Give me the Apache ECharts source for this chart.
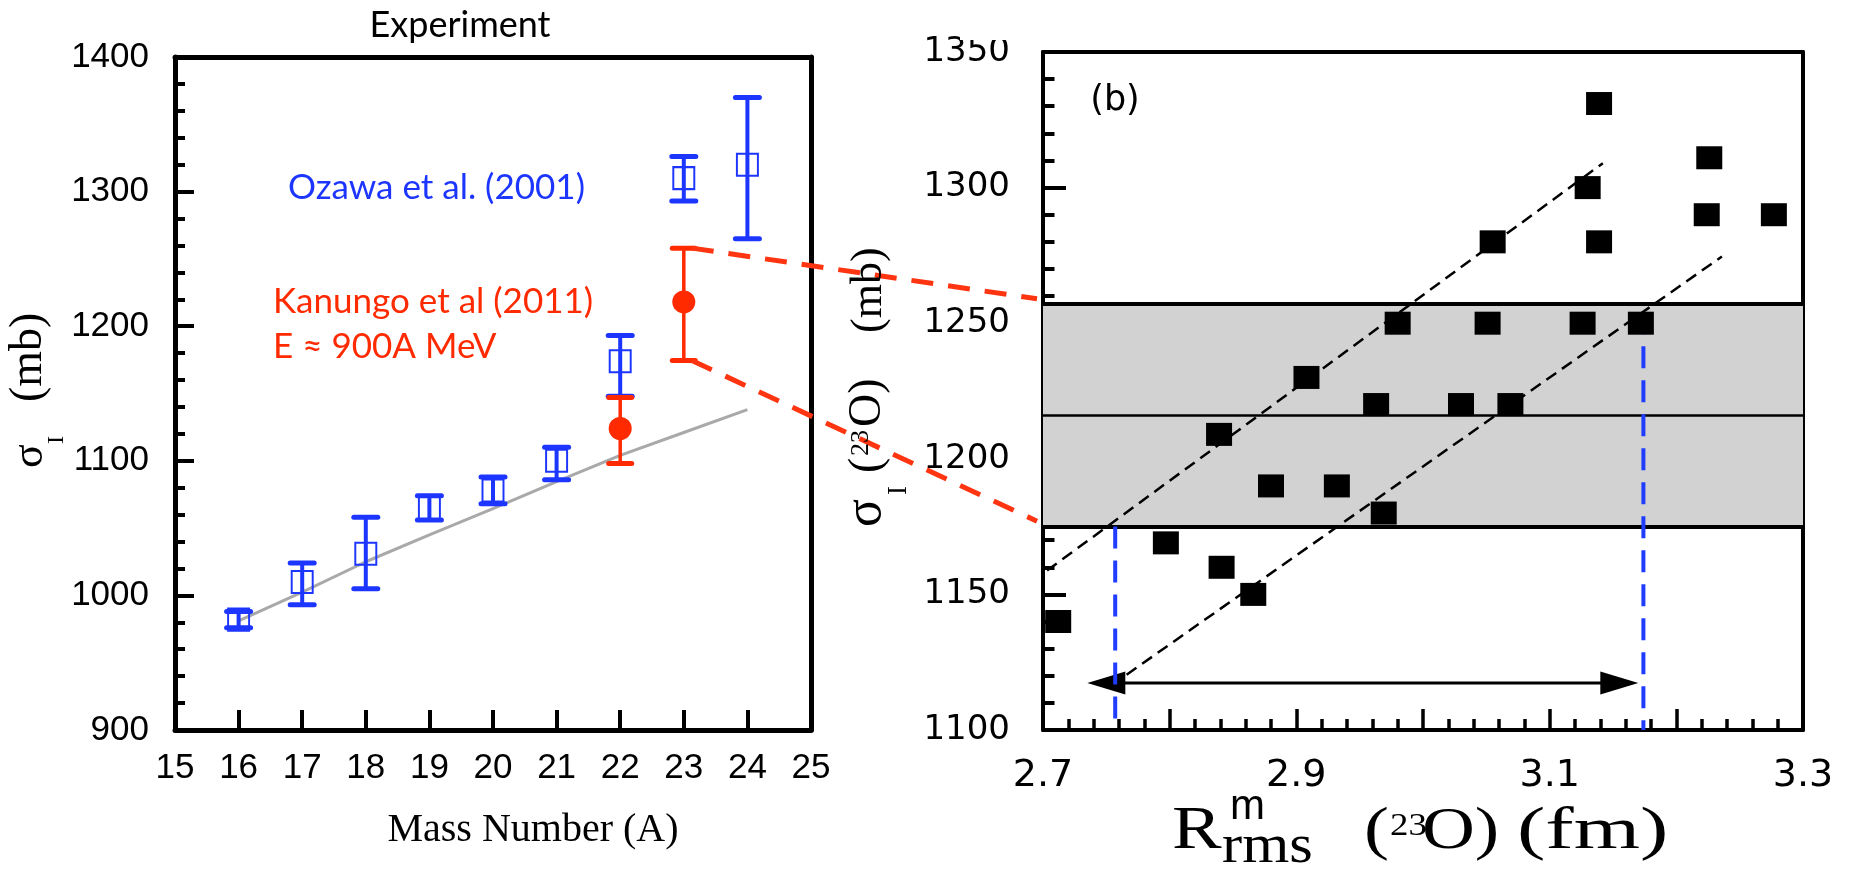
<!DOCTYPE html>
<html><head><meta charset="utf-8">
<script src="https://cdn.jsdelivr.net/npm/echarts@6/dist/echarts.min.js"></script>
<style>html,body{margin:0;padding:0;background:#fff}#c{width:1862px;height:870px}</style>
</head><body><div id="c"></div>
<script>
// ---------- Left panel data: interaction cross sections vs mass number ----------
const massNumbers = [16, 17, 18, 19, 20, 21, 22, 23, 24];
const ozawaSigma  = [982, 1010, 1031, 1065, 1078, 1100, 1174, 1310, 1320];
const ozawaLow    = [976, 993, 1005, 1056, 1068, 1086, 1148, 1293, 1265];
const ozawaHigh   = [988, 1024, 1058, 1074, 1088, 1110, 1193, 1326, 1370];
const kanungoA     = [22, 23];
const kanungoSigma = [1124, 1218];
const kanungoLow   = [1098, 1174.5];
const kanungoHigh  = [1147, 1258];
const calcA     = [16, 17, 18, 19, 20, 21, 22, 23, 24];
const calcSigma = [981, 1002.5, 1025, 1045, 1064.5, 1084.5, 1104, 1121, 1138];
const leftXTicks = [15, 16, 17, 18, 19, 20, 21, 22, 23, 24, 25];
const leftYTicks = [900, 1000, 1100, 1200, 1300, 1400];

// ---------- Right panel data: sigma_I(23O) vs matter radius ----------
const rmsRadius = [3.139, 3.226, 3.130, 3.224, 3.277, 3.055, 3.139, 2.980, 3.051, 3.126, 3.172, 2.908,
                   2.963, 3.030, 3.069, 2.839, 2.880, 2.932, 2.969, 2.797, 2.841, 2.866, 2.712];
const rmsSigma  = [1331, 1311, 1300, 1290, 1290, 1280, 1280, 1250, 1250, 1250, 1250, 1230,
                   1220, 1220, 1220, 1209, 1190, 1190, 1180, 1169, 1160, 1150, 1140];
const bandLow = 1175, bandMid = 1216, bandHigh = 1257;
const fitUpperX = [2.679, 3.142], fitUpperY = [1150.5, 1309];
const fitLowerX = [2.766, 3.236], fitLowerY = [1120.4, 1274.6];
const radiusBounds = [2.757, 3.174];
const boundTopSigma = [bandLow, 1254];
const arrowSigma = 1117.3;
const arrowHeadX = [2.750, 3.155];
const rightXLabels = ['2.7', '2.9', '3.1', '3.3'];
const rightYTicks = [1100, 1150, 1200, 1250, 1300, 1350];

const BLUE = '#1d36ff', RED = '#ff2a00';
const chart = echarts.init(document.getElementById('c'));

function errRender(color, stemW, capHalf) {
  return function (params, api) {
    const x = api.value(0), lo = api.value(1), hi = api.value(2);
    const a = api.coord([x, lo]), b = api.coord([x, hi]);
    const st = {stroke: color, lineWidth: stemW, lineCap: 'butt'};
    const cap = {stroke: color, lineWidth: 5, lineCap: 'round'};
    return {type: 'group', children: [
      {type: 'line', shape: {x1: a[0], y1: a[1], x2: b[0], y2: b[1]}, style: st},
      {type: 'line', shape: {x1: a[0] - capHalf, y1: a[1], x2: a[0] + capHalf, y2: a[1]}, style: cap},
      {type: 'line', shape: {x1: b[0] - capHalf, y1: b[1], x2: b[0] + capHalf, y2: b[1]}, style: cap}
    ]};
  };
}

const leftAxisCommon = {
  axisLine: {show: true, onZero: false, lineStyle: {color: '#000', width: 5}},
  splitLine: {show: false}
};
const rightAxisCommon = {
  axisLine: {show: true, onZero: false, lineStyle: {color: '#000', width: 4}},
  splitLine: {show: false}
};

const option = {
  animation: false,
  backgroundColor: '#fff',
  grid: [
    {left: 175, top: 57, width: 636, height: 673, containLabel: false, outerBoundsMode: 'none'},
    {left: 1043, top: 52, width: 760, height: 678, containLabel: false, outerBoundsMode: 'none'}
  ],
  xAxis: [
    Object.assign({gridIndex: 0, type: 'value', min: 15, max: 25, interval: 1, position: 'bottom',
      axisTick: {show: true, inside: true, length: 20, lineStyle: {color: '#000', width: 4}},
      axisLabel: {show: true, color: '#000', fontSize: 35, fontFamily: 'Liberation Sans, Arial', margin: 21}
    }, leftAxisCommon),
    Object.assign({gridIndex: 0, type: 'value', min: 15, max: 25, position: 'top',
      axisTick: {show: false}, axisLabel: {show: false}}, leftAxisCommon),
    Object.assign({gridIndex: 1, type: 'value', min: 2.7, max: 3.3, interval: 0.1, position: 'bottom',
      axisTick: {show: true, inside: true, length: 21, lineStyle: {color: '#000', width: 3.5}},
      minorTick: {show: true, splitNumber: 5, length: 11, lineStyle: {color: '#000', width: 3.5}},
      axisLabel: {show: true, color: '#000', fontSize: 38, fontFamily: 'DejaVu Sans', margin: 27,
        formatter: function (v) { const s = v.toFixed(1); return rightXLabels.indexOf(s) >= 0 ? s : ''; }}
    }, rightAxisCommon),
    Object.assign({gridIndex: 1, type: 'value', min: 2.7, max: 3.3, position: 'top',
      axisTick: {show: false}, axisLabel: {show: false}}, rightAxisCommon)
  ],
  yAxis: [
    Object.assign({gridIndex: 0, type: 'value', min: 900, max: 1400, interval: 100, position: 'left',
      axisTick: {show: true, inside: true, length: 19, lineStyle: {color: '#000', width: 4}},
      minorTick: {show: true, splitNumber: 5, length: 10, lineStyle: {color: '#000', width: 4}},
      axisLabel: {show: true, color: '#000', fontSize: 35, fontFamily: 'Liberation Sans, Arial', margin: 26,
        formatter: function (v) { return leftYTicks.indexOf(v) >= 0 ? String(v) : ''; }}
    }, leftAxisCommon),
    Object.assign({gridIndex: 0, type: 'value', min: 900, max: 1400, position: 'right',
      axisTick: {show: false}, axisLabel: {show: false}}, leftAxisCommon),
    Object.assign({gridIndex: 1, type: 'value', min: 1100, max: 1350, interval: 50, position: 'left',
      axisTick: {show: true, inside: true, length: 23, lineStyle: {color: '#000', width: 4}},
      minorTick: {show: true, splitNumber: 5, length: 11.5, lineStyle: {color: '#000', width: 4}},
      axisLabel: {show: true, color: '#000', fontSize: 34, fontFamily: 'DejaVu Sans', margin: 33,
        formatter: function (v) { return rightYTicks.indexOf(v) >= 0 ? String(v) : ''; }}
    }, rightAxisCommon),
    Object.assign({gridIndex: 1, type: 'value', min: 1100, max: 1350, position: 'right',
      axisTick: {show: false}, axisLabel: {show: false}}, rightAxisCommon)
  ],
  series: [
    // ---- left panel ----
    {type: 'line', name: 'calc', xAxisIndex: 0, yAxisIndex: 0, symbol: 'none', z: 2,
      lineStyle: {color: '#a9a9a9', width: 3},
      data: calcA.map((a, i) => [a, calcSigma[i]])},
    {type: 'custom', name: 'ozawaErr', xAxisIndex: 0, yAxisIndex: 0, z: 3,
      renderItem: errRender(BLUE, 4, 12),
      encode: {x: 0, y: [1, 2]},
      data: massNumbers.map((a, i) => [a, ozawaLow[i], ozawaHigh[i]])},
    {type: 'custom', name: 'kanungoErr', xAxisIndex: 0, yAxisIndex: 0, z: 3,
      renderItem: errRender(RED, 3.5, 11.5),
      encode: {x: 0, y: [1, 2]},
      data: kanungoA.map((a, i) => [a, kanungoLow[i], kanungoHigh[i]])},
    {type: 'scatter', name: 'Ozawa', xAxisIndex: 0, yAxisIndex: 0, z: 4,
      symbol: 'rect', symbolSize: [21, 22],
      itemStyle: {color: 'rgba(0,0,0,0)', borderColor: BLUE, borderWidth: 2, opacity: 1},
      data: massNumbers.map((a, i) => [a, ozawaSigma[i]])},
    {type: 'scatter', name: 'Kanungo', xAxisIndex: 0, yAxisIndex: 0, z: 4,
      symbol: 'circle', symbolSize: 23, itemStyle: {color: RED, opacity: 1},
      data: kanungoA.map((a, i) => [a, kanungoSigma[i]])},
    // ---- right panel ----
    {type: 'line', name: 'band', xAxisIndex: 2, yAxisIndex: 2, symbol: 'none', z: 1,
      lineStyle: {width: 0}, data: [],
      markArea: {silent: true, itemStyle: {color: '#d2d2d2', opacity: 1},
        data: [[{yAxis: bandLow}, {yAxis: bandHigh}]]},
      markLine: {silent: true, symbol: 'none', label: {show: false},
        data: [
          {yAxis: bandHigh, lineStyle: {color: '#000', width: 4, type: 'solid', opacity: 1}},
          {yAxis: bandMid, lineStyle: {color: '#000', width: 2.5, type: 'solid', opacity: 1}},
          {yAxis: bandLow, lineStyle: {color: '#000', width: 4, type: 'solid', opacity: 1}}
        ]}},
    {type: 'line', name: 'fitUpper', xAxisIndex: 2, yAxisIndex: 2, symbol: 'none', clip: false, z: 3,
      lineStyle: {color: '#000', width: 2.5, type: [12, 7]},
      data: fitUpperX.map((x, i) => [x, fitUpperY[i]])},
    {type: 'line', name: 'fitLower', xAxisIndex: 2, yAxisIndex: 2, symbol: 'none', clip: false, z: 3,
      lineStyle: {color: '#000', width: 2.5, type: [12, 7]},
      data: fitLowerX.map((x, i) => [x, fitLowerY[i]])},
    {type: 'line', name: 'boundL', xAxisIndex: 2, yAxisIndex: 2, symbol: 'none', z: 5,
      lineStyle: {color: '#1f3cff', width: 4, type: [22, 12]},
      data: [[radiusBounds[0], boundTopSigma[0]], [radiusBounds[0], 1100]]},
    {type: 'line', name: 'boundR', xAxisIndex: 2, yAxisIndex: 2, symbol: 'none', z: 5,
      lineStyle: {color: '#1f3cff', width: 4, type: [22, 12]},
      data: [[radiusBounds[1], boundTopSigma[1]], [radiusBounds[1], 1100]]},
    {type: 'line', name: 'arrowLine', xAxisIndex: 2, yAxisIndex: 2, symbol: 'none', z: 4,
      lineStyle: {color: '#000', width: 3},
      data: arrowHeadX.map(x => [x, arrowSigma])},
    {type: 'scatter', name: 'arrowHeads', xAxisIndex: 2, yAxisIndex: 2, z: 4,
      symbol: 'triangle', symbolSize: [23, 38], itemStyle: {color: '#000', opacity: 1},
      data: [
        {value: [arrowHeadX[0], arrowSigma], symbolRotate: 90},
        {value: [arrowHeadX[1], arrowSigma], symbolRotate: -90}
      ]},
    {type: 'scatter', name: 'calcSquares', xAxisIndex: 2, yAxisIndex: 2, z: 6,
      symbol: 'rect', symbolSize: [26, 23], itemStyle: {color: '#000', opacity: 1},
      data: rmsRadius.map((x, i) => [x, rmsSigma[i]])}
  ]
};
chart.setOption(option);

// ---------- annotations ----------
const SERIF = '"Liberation Serif", "Times New Roman", serif';
const CAL = 'Lato, "Open Sans", sans-serif';
function T(text, x, y, size, family, fill, extra) {
  const el = {type: 'text', x: x, y: y, z: 50,
    style: {text: text, x: 0, y: 0, fill: fill || '#000', fontSize: size, fontFamily: family,
      align: 'left', textAlign: 'left', verticalAlign: 'middle', textVerticalAlign: 'middle'}};
  if (extra) {
    if (extra.align) { el.style.align = extra.align; el.style.textAlign = extra.align; }
    if (extra.scaleX) el.scaleX = extra.scaleX;
    if (extra.scaleY) el.scaleY = extra.scaleY;
  }
  return el;
}
// baseline helper: middle ~ baseline - 0.34 em
function B(text, x, base, size, family, fill, extra) { return T(text, x, base - 0.34 * size, size, family, fill, extra); }

const gfx = [];
gfx.push(T('Experiment', 460, 25, 36, CAL, '#000', {align: 'center'}));
gfx.push(T('Ozawa et al. (2001)', 288, 188, 35, CAL, BLUE));
gfx.push(T('Kanungo et al (2011)', 273, 302, 35, CAL, RED));
gfx.push(T('E \u2248 900A MeV', 273, 347, 35, CAL, RED));
gfx.push(T('Mass Number (A)', 533, 830, 40, SERIF, '#000', {align: 'center'}));
gfx.push(T('(b)', 1115, 101, 35, 'DejaVu Sans', '#000', {align: 'center'}));

// left y title (rotated)
gfx.push({type: 'group', x: 45, y: 468, rotation: Math.PI / 2, z: 50, children: [
  B('\u03c3', 0, 0, 44, SERIF), B('I', 24, 20, 24, SERIF), B('(mb)', 66, 0, 46, SERIF)
]});
// right y title (rotated)
gfx.push({type: 'group', x: 884, y: 527, rotation: Math.PI / 2, z: 50, children: [
  B('\u03c3', 0, 0, 52, SERIF), B('I', 32, 24, 27, SERIF), B('(', 54, 0, 46, SERIF),
  B('23', 71, -14, 26, SERIF), B('O)', 100, 0, 46, SERIF), B('(mb)', 194, 0, 44, SERIF)
]});
// right x title
gfx.push(B('R', 1172, 853, 62, SERIF, '#000', {scaleX: 1.2}));
gfx.push(B('m', 1230, 822, 42, 'Liberation Sans, Arial'));
gfx.push(B('rms', 1222, 866, 54, SERIF, '#000', {scaleX: 1.12}));
gfx.push(B('(', 1364, 853, 60, SERIF, '#000', {scaleX: 1.25}));
gfx.push(B('23', 1390, 837, 32, SERIF, '#000', {scaleX: 1.15}));
gfx.push(B('O)', 1422, 853, 60, SERIF, '#000', {scaleX: 1.22}));
gfx.push(B('(fm)', 1517, 853, 60, SERIF, '#000', {scaleX: 1.42}));
// clip of the top of the right panel label, as in the source figure
gfx.push({type: 'rect', z: 60, shape: {x: 960, y: 0, width: 80, height: 40}, style: {fill: '#fff'}});

// red connectors between the two panels (through each panel's own scale)
const u0 = chart.convertToPixel({xAxisIndex: 0, yAxisIndex: 0}, [kanungoA[1], kanungoHigh[1]]);
const l0 = chart.convertToPixel({xAxisIndex: 0, yAxisIndex: 0}, [kanungoA[1], kanungoLow[1]]);
const u1 = chart.convertToPixel({xAxisIndex: 2, yAxisIndex: 2}, [2.7, bandHigh + 2]);
const l1 = chart.convertToPixel({xAxisIndex: 2, yAxisIndex: 2}, [2.7, bandLow + 2]);
const dashStyle = {stroke: '#ff3512', lineWidth: 5, lineDash: [22, 15]};
gfx.push({type: 'line', z: 40, shape: {x1: u0[0] + 8, y1: u0[1], x2: u1[0] - 6, y2: u1[1]}, style: dashStyle});
gfx.push({type: 'line', z: 40, shape: {x1: l0[0] + 8, y1: l0[1], x2: l1[0] - 6, y2: l1[1]}, style: dashStyle});

chart.setOption({graphic: gfx});
</script></body></html>
